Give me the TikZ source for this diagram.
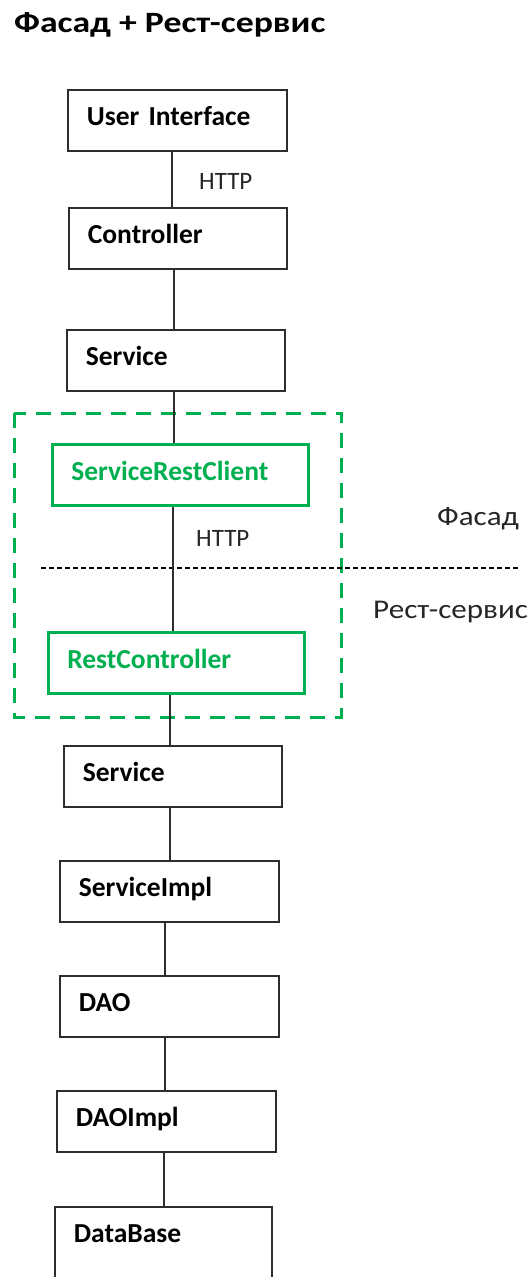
\documentclass[tikz,border=0pt]{standalone}
\usepackage{fontspec}
\setmainfont{Carlito}
\newfontfamily\widecyr[FakeStretch=1.15]{Carlito}
\newfontfamily\widecyrbold[FakeStretch=1.21]{Carlito Bold}
\definecolor{okgreen}{RGB}{0,176,80}
\definecolor{edgegray}{RGB}{45,45,45}
\tikzset{
  x=1pt, y=-1pt,
  box/.style={draw=edgegray, line width=1.8pt, rectangle, anchor=north west,
    inner xsep=19pt, inner ysep=0pt, text height=36pt, text depth=25pt,
    align=left, font=\fontsize{27.5}{30}\selectfont\bfseries, text=black},
  greenbox/.style={box, draw=okgreen, line width=2.6pt, text=okgreen},
  link/.style={draw=edgegray, line width=1.8pt},
  lbl/.style={inner sep=0pt, anchor=west, font=\fontsize{25}{28}\selectfont, text=black!85},
  cyrlbl/.style={lbl, font=\fontsize{27}{30}\selectfont\widecyr},
  grouping/.style={draw=okgreen, line width=3pt, dash pattern=on 15pt off 10pt},
  divider/.style={draw=black, line width=1.1pt, dash pattern=on 5pt off 3pt}
}
\begin{document}
\begin{tikzpicture}
\useasboundingbox (0,0) rectangle (531,1277);
\clip (0,0) rectangle (531,1277);
\fill[white] (0,0) rectangle (531,1277);

% heading
\node[inner sep=0pt, anchor=base west, font=\fontsize{29.5}{32}\selectfont\widecyrbold] (title) at (14,32) {Фасад + Рест-сервис};

% facade layers
\node[box, text width=181pt] (ui)   at (67,89)  {User Interface};
\node[box, text width=180pt] (ctrl) at (68,207) {Controller};
\node[box, text width=180pt] (svc)  at (66,329) {Service};

% client / REST boundary
\draw[grouping] (14,413) rectangle (341,717);
\node[greenbox, text width=218pt] (client) at (51,443) {ServiceRestClient};
\node[greenbox, text width=218pt] (rest)   at (47,631) {RestController};
\draw[divider] (41,568) coordinate (dl) -- (520,568) coordinate (dr);

% REST service layers
\node[box, text width=180pt] (svc2)  at (63,745)  {Service};
\node[box, text width=181pt] (impl)  at (59,860)  {ServiceImpl};
\node[box, text width=181pt] (dao)   at (59,975)  {DAO};
\node[box, text width=181pt] (daoi)  at (56,1090) {DAOImpl};
\node[box, text width=179pt, text depth=50pt] (db) at (54,1206) {DataBase};

% connectors
\draw[link] (ui.south -| 172,0)     -- (ctrl.north -| 172,0);
\draw[link] (ctrl.south -| 174,0)   -- (svc.north -| 174,0);
\draw[link] (svc.south -| 174,0)    -- (client.north -| 174,0);
\draw[link, line width=1.4pt] (client.south -| 173,0) -- (rest.north -| 173,0);
\draw[link] (rest.south -| 170,0)   -- (svc2.north -| 170,0);
\draw[link] (svc2.south -| 170,0)   -- (impl.north -| 170,0);
\draw[link] (impl.south -| 165,0)   -- (dao.north -| 165,0);
\draw[link] (dao.south -| 165,0)    -- (daoi.north -| 165,0);
\draw[link] (daoi.south -| 164,0)   -- (db.north -| 164,0);

% labels
\node[lbl] (http1) at (199,181) {HTTP};
\node[lbl] (http2) at (196,538) {HTTP};
\node[cyrlbl] (facade) at (437,519) {Фасад};
\node[cyrlbl] (restsvc) at (373,612) {Рест-сервис};
\end{tikzpicture}
\end{document}
